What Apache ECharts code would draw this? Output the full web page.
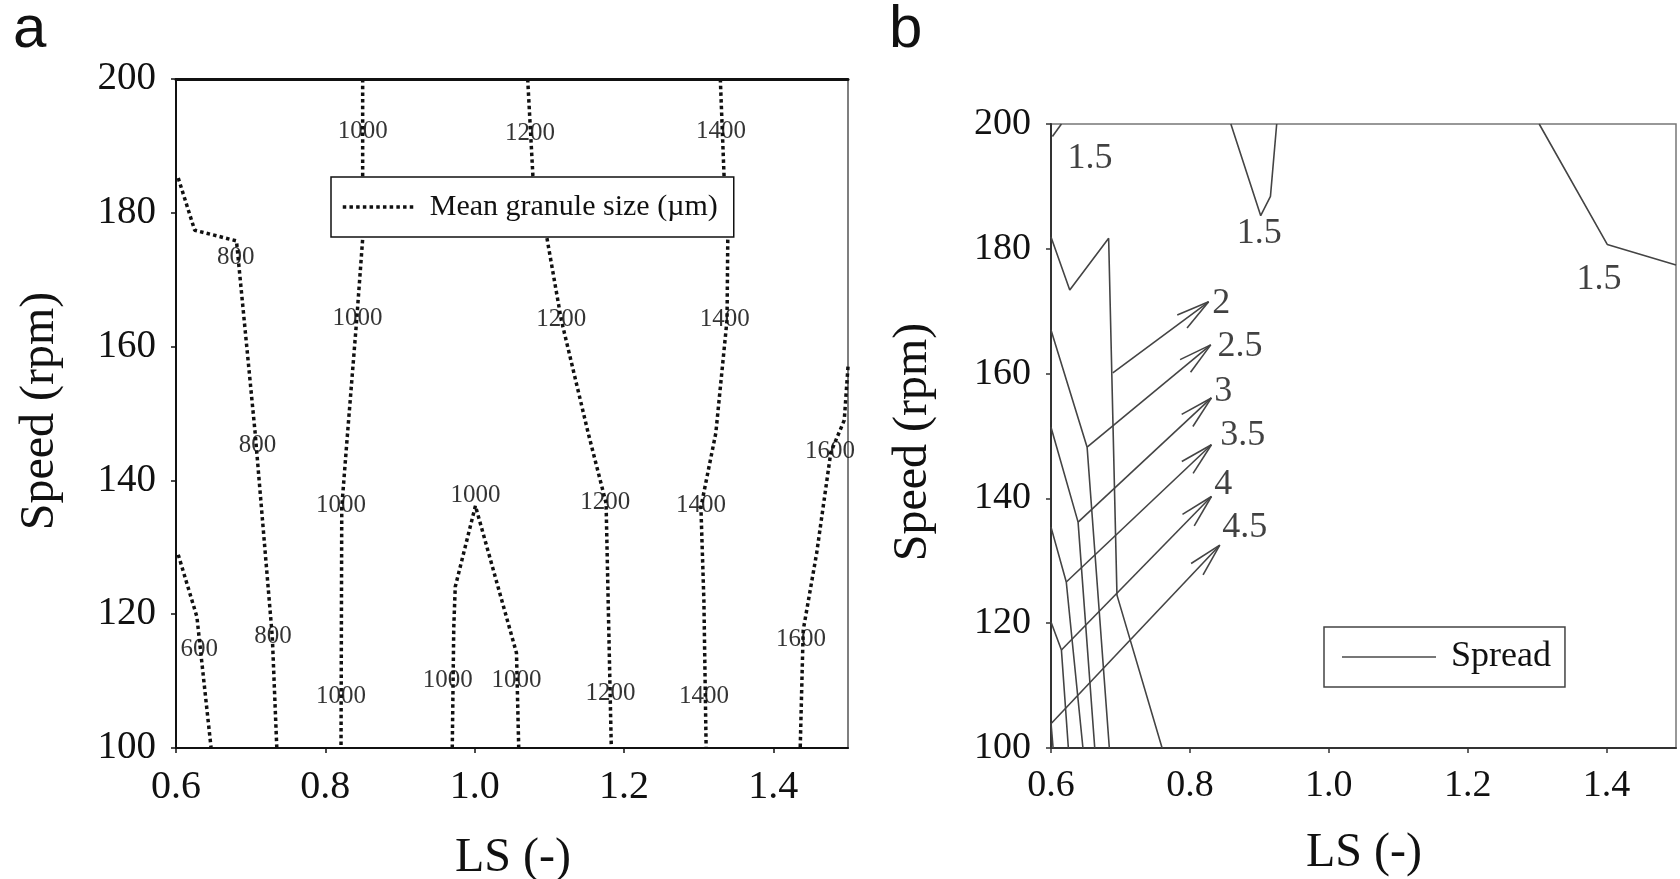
<!DOCTYPE html>
<html>
<head>
<meta charset="utf-8">
<script src="https://cdn.jsdelivr.net/npm/echarts@6/dist/echarts.min.js"></script>
<style>html,body{margin:0;padding:0;background:#fff}#chart{width:1680px;height:879px}</style>
</head>
<body>
<div id="chart"></div>
<script>
// ---------- axis values ----------
const xMin = 0.6, xMax = 1.5, xStep = 0.2;
const yMin = 100, yMax = 200, yStep = 20;

// ---------- panel a: mean granule size contours (LS, speed) ----------
const size600   = [[0.603,128.9],[0.628,119.6],[0.647,100]];
const size800   = [[0.603,185.2],[0.625,177.4],[0.681,175.8],[0.706,147.1],[0.729,116.6],[0.735,100]];
const size1000a = [[0.850,200],[0.850,176.1],[0.842,164.0],[0.829,146.0],[0.822,136.0],[0.821,100]];
const size1000b = [[0.970,100],[0.972,118],[0.974,124.1],[1.001,136.2],[1.056,114.2],[1.059,100]];
const size1200  = [[1.071,200],[1.078,185.5],[1.097,176.1],[1.116,164.0],[1.152,147.1],[1.176,136.6],[1.183,100]];
const size1400  = [[1.329,200],[1.334,185.5],[1.339,176.1],[1.338,164.0],[1.323,147.1],[1.303,136.0],[1.307,122],[1.310,100]];
const size1600  = [[1.5,157],[1.495,149.0],[1.477,144.2],[1.458,129.1],[1.440,117.6],[1.436,100]];
const sizeLabels = [
  [0.850,192.1,'1000'],[1.074,191.9,'1200'],[1.330,192.1,'1400'],
  [0.680,173.3,'800'],[0.843,164.2,'1000'],[1.116,164.0,'1200'],[1.335,164.1,'1400'],
  [0.709,145.3,'800'],[1.476,144.4,'1600'],
  [0.821,136.2,'1000'],[1.001,137.8,'1000'],[1.175,136.7,'1200'],[1.303,136.2,'1400'],
  [0.730,116.7,'800'],[0.631,114.8,'600'],[1.437,116.2,'1600'],
  [0.964,110.1,'1000'],[1.056,110.1,'1000'],[1.182,108.1,'1200'],[0.821,107.7,'1000'],[1.307,107.7,'1400']
];

// ---------- panel b: spread contours ----------
const spread15a = [[0.615,200],[0.602,198.0]];
const spread15b = [[0.859,200],[0.902,185.3],[0.916,188.4],[0.925,200]];
const spread15c = [[1.303,200],[1.401,180.7],[1.5,177.4]];
const spread20  = [[0.6,181.9],[0.627,173.4],[0.683,181.7],[0.695,124.5],[0.760,100]];
const spread25  = [[0.6,167.0],[0.652,148.2],[0.684,100]];
const spread30  = [[0.6,151.4],[0.639,136.2],[0.663,100]];
const spread35  = [[0.6,135.4],[0.622,126.6],[0.646,100]];
const spread40  = [[0.6,120.2],[0.615,115.7],[0.625,100]];
const spread45  = [[0.6,104.0],[0.603,100]];
const spreadLabels = [
  [0.656,194.5,'1.5'],[0.900,182.4,'1.5'],[1.389,175.1,'1.5'],
  [0.845,171.3,'2'],[0.872,164.3,'2.5'],[0.848,157.2,'3'],
  [0.876,150.0,'3.5'],[0.848,142.3,'4'],[0.879,135.3,'4.5']
];
// arrows: [fromLS, fromSpeed, toLS, toSpeed]
const spreadArrows = [
  [0.689,160.1,0.827,171.5],
  [0.652,148.2,0.830,164.6],
  [0.639,136.2,0.831,156.1],
  [0.622,126.6,0.831,148.6],
  [0.615,115.7,0.831,140.3],
  [0.601,104.0,0.843,132.5]
];

const SERIF = '"Liberation Serif","Times New Roman",serif';
const SANS = '"Liberation Sans",Arial,sans-serif';
const NAME_A = 'Mean granule size (\u00b5m)';
const NAME_B = 'Spread';

function xAxisCfg(gi, fs, col) {
  return {
    type:'value', gridIndex:gi, min:xMin, max:xMax, interval:xStep,
    axisLine:{show:true, onZero:false, lineStyle:{color:col, width:2}},
    axisTick:{show:true, length:5, lineStyle:{color:col, width:1.5}},
    axisLabel:{fontFamily:SERIF, fontSize:fs, color:'#111', margin:19, showMaxLabel:false,
      formatter:v => v.toFixed(1)},
    splitLine:{show:false}
  };
}
function yAxisCfg(gi, fs, col) {
  return {
    type:'value', gridIndex:gi, min:yMin, max:yMax, interval:yStep,
    axisLine:{show:true, onZero:false, lineStyle:{color:col, width:2}},
    axisTick:{show:true, length:5, lineStyle:{color:col, width:1.5}},
    axisLabel:{fontFamily:SERIF, fontSize:fs, color:'#111', margin:20},
    splitLine:{show:false}
  };
}

const series = [];
[size600,size800,size1000a,size1000b,size1200,size1400,size1600].forEach(d => {
  series.push({
    type:'line', name:NAME_A, xAxisIndex:0, yAxisIndex:0, data:d, symbol:'none',
    itemStyle:{color:'#111'},
    lineStyle:{color:'#111', width:3.5, type:[3.5,3.2], cap:'butt'}, z:3, silent:true
  });
});
series.push({
  type:'scatter', name:'sizeLabels', xAxisIndex:0, yAxisIndex:0, symbolSize:1,
  itemStyle:{color:'rgba(0,0,0,0)'}, silent:true, z:2,
  data:sizeLabels.map(d => ({value:[d[0],d[1]], label:{formatter:d[2]}})),
  label:{show:true, position:'inside', fontFamily:SERIF, fontSize:25, color:'#000'}
});
[spread15a,spread15b,spread15c,spread20,spread25,spread30,spread35,spread40,spread45].forEach(d => {
  series.push({
    type:'line', name:NAME_B, xAxisIndex:1, yAxisIndex:1, data:d, symbol:'none',
    itemStyle:{color:'#444'},
    lineStyle:{color:'#444', width:1.6}, z:3, silent:true
  });
});
series.push({
  type:'custom', name:'arrows', xAxisIndex:1, yAxisIndex:1, silent:true, z:3,
  data:spreadArrows, encode:{x:[0,2], y:[1,3]},
  renderItem:(params, api) => {
    const p1 = api.coord([api.value(0), api.value(1)]);
    const p2 = api.coord([api.value(2), api.value(3)]);
    const ang = Math.atan2(p1[1]-p2[1], p1[0]-p2[0]);
    const L = 34, da = 14*Math.PI/180;
    const h1 = [p2[0]+L*Math.cos(ang+da), p2[1]+L*Math.sin(ang+da)];
    const h2 = [p2[0]+L*Math.cos(ang-da), p2[1]+L*Math.sin(ang-da)];
    const st = {stroke:'#444', lineWidth:1.6, fill:null};
    return {type:'group', children:[
      {type:'line', shape:{x1:p1[0],y1:p1[1],x2:p2[0],y2:p2[1]}, style:st},
      {type:'line', shape:{x1:p2[0],y1:p2[1],x2:h1[0],y2:h1[1]}, style:st},
      {type:'line', shape:{x1:p2[0],y1:p2[1],x2:h2[0],y2:h2[1]}, style:st}
    ]};
  }
});
series.push({
  type:'scatter', name:'spreadLabels', xAxisIndex:1, yAxisIndex:1, symbolSize:1,
  itemStyle:{color:'rgba(0,0,0,0)'}, silent:true, z:4,
  data:spreadLabels.map(d => ({value:[d[0],d[1]], label:{formatter:d[2]}})),
  label:{show:true, position:'inside', fontFamily:SERIF, fontSize:36, color:'#111'}
});

const chart = echarts.init(document.getElementById('chart'), null, {renderer:'canvas'});
chart.setOption({
  animation:false,
  backgroundColor:'#fff',
  grid:[
    {left:176, top:79, width:672, height:669, show:true, borderColor:'#555', borderWidth:1.5, backgroundColor:'transparent'},
    {left:1051, top:124, width:625, height:624, show:true, borderColor:'#777', borderWidth:1.5, backgroundColor:'transparent'}
  ],
  xAxis:[
    xAxisCfg(0, 40, '#111'),
    xAxisCfg(1, 38, '#333'),
    {type:'value', gridIndex:0, position:'top', min:xMin, max:xMax,
     axisLine:{show:true, onZero:false, lineStyle:{color:'#111', width:3}},
     axisTick:{show:false}, axisLabel:{show:false}, splitLine:{show:false}}
  ],
  yAxis:[ yAxisCfg(0, 39, '#111'), yAxisCfg(1, 38, '#333') ],
  legend:[
    {data:[NAME_A], left:331, top:177, orient:'horizontal', selectedMode:false,
     backgroundColor:'#fff', borderColor:'#111', borderWidth:1.5, borderRadius:0,
     padding:[15,16,15,10], itemWidth:72, itemHeight:14,
     itemStyle:{color:'rgba(0,0,0,0)', borderWidth:0, opacity:0},
     lineStyle:{color:'#111', width:3.5, type:[3.5,3.2], cap:'butt'},
     textStyle:{fontFamily:SERIF, fontSize:30, color:'#111', padding:[0,0,0,10]}},
    {data:[NAME_B], left:1324, top:627, orient:'horizontal', selectedMode:false,
     backgroundColor:'#fff', borderColor:'#444', borderWidth:1.5, borderRadius:0,
     padding:[12,14,12,17], itemWidth:94, itemHeight:14,
     itemStyle:{color:'rgba(0,0,0,0)', borderWidth:0, opacity:0},
     lineStyle:{color:'#777', width:2},
     textStyle:{fontFamily:SERIF, fontSize:36, color:'#111', padding:[0,0,0,10]}}
  ],
  graphic:[
    {type:'text', x:13, y:30, style:{text:'a', font:'60px ' + SANS, fill:'#111', textVerticalAlign:'middle'}},
    {type:'text', x:889, y:30, style:{text:'b', font:'60px ' + SANS, fill:'#111', textVerticalAlign:'middle'}},
    {type:'text', x:40, y:411, rotation:Math.PI/2, style:{text:'Speed (rpm)', font:'48px ' + SERIF, fill:'#111', textAlign:'center', textVerticalAlign:'middle'}},
    {type:'text', x:913, y:442, rotation:Math.PI/2, style:{text:'Speed (rpm)', font:'48px ' + SERIF, fill:'#111', textAlign:'center', textVerticalAlign:'middle'}},
    {type:'text', x:513, y:858, style:{text:'LS (-)', font:'48px ' + SERIF, fill:'#111', textAlign:'center', textVerticalAlign:'middle'}},
    {type:'text', x:1364, y:853, style:{text:'LS (-)', font:'48px ' + SERIF, fill:'#111', textAlign:'center', textVerticalAlign:'middle'}}
  ],
  series:series
});
</script>
</body>
</html>
